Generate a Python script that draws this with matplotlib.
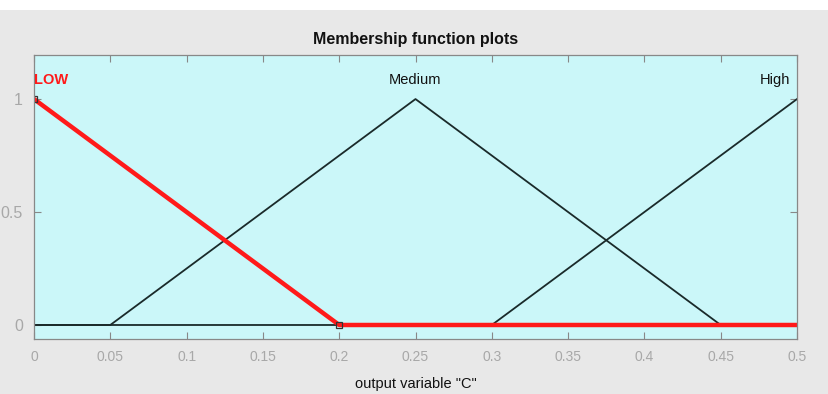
import matplotlib
matplotlib.use("Agg")
import matplotlib.pyplot as plt
from matplotlib.transforms import offset_copy

# Data
x_range = [0.0, 0.5]
low_x = [0.0, 0.2, 0.5]
low_y = [1.0, 0.0, 0.0]
medium_x = [0.0, 0.05, 0.25, 0.45, 0.5]
medium_y = [0.0, 0.0, 1.0, 0.0, 0.0]
high_x = [0.0, 0.3, 0.5]
high_y = [0.0, 0.0, 1.0]
mf_names = ["LOW", "Medium", "High"]
mf_label_x = [0.0, 0.25, 0.5]
xticks = [0, 0.05, 0.1, 0.15, 0.2, 0.25, 0.3, 0.35, 0.4, 0.45, 0.5]
xtick_labels = ["0", "0.05", "0.1", "0.15", "0.2", "0.25", "0.3", "0.35", "0.4", "0.45", "0.5"]
yticks = [0, 0.5, 1]
ytick_labels = ["0", "0.5", "1"]

plt.rcParams['font.family'] = ['Liberation Sans', 'DejaVu Sans']

fig = plt.figure(figsize=(8.29, 3.94), dpi=100, facecolor="#e8e8e8")
ax = fig.add_axes([34/829, 55/394, 763/829, 284/394])
ax.set_facecolor("#cbf7f9")
ax.set_xlim(x_range)
ax.set_ylim(-0.062, 1.195)

ax.plot(medium_x, medium_y, color="#1a2a2a", lw=1.3)
ax.plot(high_x, high_y, color="#1a2a2a", lw=1.3)
ax.plot(low_x, low_y, color="#ff1a1a", lw=3.2)
ax.plot([low_x[0], low_x[1]], [low_y[0], low_y[1]], linestyle="none",
        marker="s", markersize=5, markerfacecolor="none", markeredgecolor="#333333", mew=0.9)

colors = ["#ff1a1a", "#111111", "#111111"]
has = ["left", "center", "right"]
weights = ["bold", "normal", "normal"]
offsets = [0, 0, -5]
for name, xx, c, ha, w, off in zip(mf_names, mf_label_x, colors, has, weights, offsets):
    tr = offset_copy(ax.transData, fig=fig, x=off, y=0, units="points")
    ax.text(xx, 1.085, name, color=c, ha=ha, va="center", fontsize=10.5, fontweight=w,
            transform=tr)

ax.set_xticks(xticks)
ax.set_xticklabels(xtick_labels)
ax.set_yticks(yticks)
ax.set_yticklabels(ytick_labels)
ax.tick_params(direction="in", top=True, right=True, length=5, width=0.8,
               colors="#888888", labelcolor="#a8a8a8", labelsize=10, pad=8)
ax.tick_params(axis="y", labelsize=11.5, pad=8)
for s in ax.spines.values():
    s.set_color("#888888")
    s.set_linewidth(0.9)

ax.set_title("Membership function plots", fontsize=11.5, fontweight="bold", pad=8, color="#111111")
ax.set_xlabel('output variable "C"', fontsize=10.5, color="#111111", labelpad=9)

# white strip at top
fig.patches.append(plt.Rectangle((0, 1 - 10/394), 1, 10/394, transform=fig.transFigure,
                                 facecolor="white", edgecolor="none", zorder=-1))

fig.savefig("out.png", dpi=100, facecolor=fig.get_facecolor())
